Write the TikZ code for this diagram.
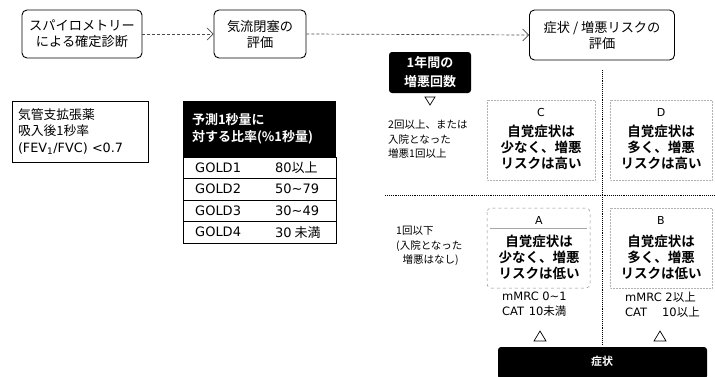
\documentclass[tikz,border=0pt]{standalone}
\usepackage{fontspec}
\setmainfont{Noto Sans CJK JP}[BoldFont={Noto Sans CJK JP Bold}]
\newfontfamily\lat{DejaVu Sans}
\usetikzlibrary{arrows.meta}
\begin{document}
\begin{tikzpicture}[x=1pt,y=-1pt,
  flowbox/.style={draw, rounded corners=5pt, line width=0.9pt, align=center, inner sep=0pt,
    font=\fontsize{13.2}{16}\selectfont},
  flowarrow/.style={draw=black!70, densely dashed, line width=0.7pt,
    -{Straight Barb[length=6pt,width=12pt,line width=0.7pt]}},
  blackbox/.style={fill=black, text=white, align=center, inner sep=0pt, rounded corners=3pt},
  rowbox/.style={draw, line width=0.7pt, minimum width=153pt, minimum height=21.5pt, inner sep=0pt},
  celltxt/.style={anchor=west, inner sep=0pt, font=\fontsize{13}{15}\selectfont},
  quadbox/.style={draw=black!30, densely dotted, line width=0.5pt},
  letter/.style={font=\lat\fontsize{11}{13}\selectfont, inner sep=0pt},
  quadtxt/.style={align=center, inner sep=0pt, font=\bfseries\fontsize{13.5}{16}\selectfont},
  sidetxt/.style={align=left, anchor=north west, inner sep=0pt, font=\fontsize{10.5}{14.5}\selectfont},
  scoretxt/.style={align=left, anchor=north west, inner sep=0pt, font=\fontsize{11.5}{15}\selectfont},
  grid/.style={densely dotted, line width=0.9pt},
  tri/.style={draw, line width=0.7pt}
]
\useasboundingbox (0,0) rectangle (715,376);

% top flow
\node[flowbox, minimum width=120pt, minimum height=48pt] (spiro) at (82,34) {スパイロメトリー\\による確定診断};
\node[flowbox, minimum width=92pt, minimum height=48pt] (airflow) at (260,34) {気流閉塞の\\評価};
\node[flowbox, minimum width=145pt, minimum height=50pt] (symp) at (602,35) {症状 / 増悪リスクの\\評価};
\draw[flowarrow] (spiro.east) -- (airflow.west);
\draw[flowarrow] (airflow.east) -- (symp.west);

% FEV box
\node[draw, line width=0.8pt, minimum width=136pt, minimum height=61pt, text width=124pt, align=left,
  inner sep=0pt, font=\fontsize{12.8}{16.5}\selectfont] (fev) at (80,131.5)
  {気管支拡張薬\\吸入後1秒率\\{\lat (FEV\textsubscript{1}/FVC) <0.7}};

% GOLD table
\node[blackbox, rounded corners=0pt, minimum width=153pt, minimum height=56pt, text width=135pt, align=left,
  font=\bfseries\fontsize{13}{17}\selectfont] (thead) at (259.5,129)
  {予測1秒量に\\対する比率(\%1秒量)};
\node[rowbox] (g1) at (259.5,167.75) {};
\node[rowbox] (g2) at (259.5,189.25) {};
\node[rowbox] (g3) at (259.5,210.75) {};
\node[rowbox] (g4) at (259.5,232.25) {};
\node[celltxt] (g1a) at (195,167.75) {\lat GOLD1};
\node[celltxt] (g1b) at (275,167.75) {{\lat 80}以上};
\node[celltxt] (g2a) at (195,189.25) {\lat GOLD2};
\node[celltxt] (g2b) at (275,189.25) {\lat 50\textasciitilde 79};
\node[celltxt] (g3a) at (195,210.75) {\lat GOLD3};
\node[celltxt] (g3b) at (275,210.75) {\lat 30\textasciitilde 49};
\node[celltxt] (g4a) at (195,232.25) {\lat GOLD4};
\node[celltxt] (g4b) at (275,232.25) {{\lat 30} 未満};

% exacerbation axis
\node[blackbox, minimum width=82pt, minimum height=41pt,
  font=\bfseries\fontsize{13}{19}\selectfont] (exac) at (430,72.5) {1年間の\\増悪回数};
\draw[tri] (425,97) -- (435,97) -- (430,105) -- cycle;
\node[sidetxt] (hi) at (388,120) {2回以上、または\\入院となった\\増悪1回以上};
\node[sidetxt] (lo) at (396,226) {1回以下\\(入院となった\\\hspace{0.6em}増悪はなし)};

% grid lines
\coordinate (vtop) at (602,70);
\coordinate (vbot) at (602,345);
\coordinate (hl) at (385,195);
\coordinate (hr) at (715,195);
\draw[grid] (vtop) -- (vbot);
\draw[grid] (hl) -- (hr);

% quadrants
\draw[quadbox] (487,100) rectangle (595,180);
\draw[quadbox] (610,100) rectangle (712,180);
\draw[draw=black!45, dashed, line width=0.5pt, rounded corners=4pt] (487,208) rectangle (590,288);
\draw[draw=black!35, line width=0.4pt] (490,228) -- (587,228);
\draw[quadbox] (610,208) rectangle (712,288);

\node[letter] (lc) at (541,112) {C};
\node[quadtxt] (qc) at (541,147) {自覚症状は\\少なく、増悪\\リスクは高い};
\node[letter] (ld) at (661,112) {D};
\node[quadtxt] (qd) at (661,147) {自覚症状は\\多く、増悪\\リスクは高い};
\node[letter] (la) at (539,220) {A};
\node[quadtxt] (qa) at (539,257) {自覚症状は\\少なく、増悪\\リスクは低い};
\node[letter] (lb) at (661,220) {B};
\node[quadtxt] (qb) at (661,257) {自覚症状は\\多く、増悪\\リスクは低い};

\node[scoretxt] (sa) at (502,292) {{\lat mMRC 0\textasciitilde 1}\\{\lat CAT\hspace{0.4em}10}未満};
\node[scoretxt] (sb) at (625,292) {{\lat mMRC 2}以上\\{\lat CAT\hspace{1.3em}10}以上};

\draw[tri] (534,341) -- (546,341) -- (540,331) -- cycle;
\draw[tri] (654,341) -- (666,341) -- (660,331) -- cycle;

\node[blackbox, minimum width=209pt, minimum height=32pt]
  (sympbar) at (602.5,363) {};
\node[text=white, inner sep=0pt, font=\bfseries\fontsize{11}{13}\selectfont] (sympbartxt) at (602,361) {症状};
\end{tikzpicture}
\end{document}
